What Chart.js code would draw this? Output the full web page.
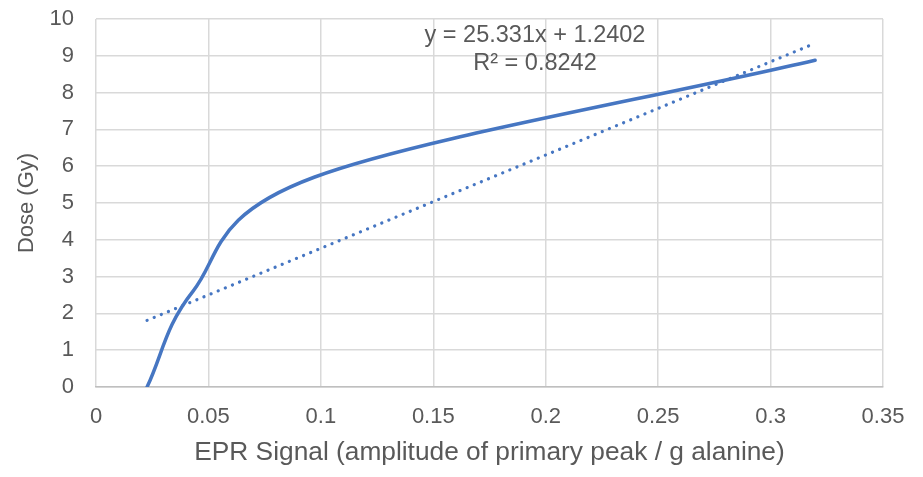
<!DOCTYPE html>
<html>
<head>
<meta charset="utf-8">
<script src="https://cdn.jsdelivr.net/npm/chart.js@4"></script>
<style>
html,body{margin:0;padding:0;background:#fff;}
#wrap{width:923px;height:477px;position:relative;}
</style>
</head>
<body>
<div id="wrap"><canvas id="c" width="923" height="477"></canvas></div>
<script>
// Data
const eprSignal = [0.0227, 0.0431, 0.097, 0.3198];
const doseGy    = [0, 2.6, 5.7, 8.88];
// Linear trendline end points (as drawn)
const trendX = [0.0227, 0.3198];
const trendY = [1.81, 9.34];
const xTickLabels = ['0', '0.05', '0.1', '0.15', '0.2', '0.25', '0.3', '0.35'];
const yTickLabels = ['0','1','2','3','4','5','6','7','8','9','10'];
const equationLines = ['y = 25.331x + 1.2402', 'R\u00B2 = 0.8242'];

const FONT = 'Liberation Sans, Arial, sans-serif';
const TXT = '#595959';
const BLUE = '#4676c2';

// Excel-style smoothing: Catmull-Rom (1/6) control points on the library's own pixel positions
const excelSmooth = {
  id: 'excelSmooth',
  beforeDatasetDraw(chart, args) {
    if (args.index !== 0) return;
    const meta = chart.getDatasetMeta(0);
    const line = meta.dataset;
    if (line && typeof line.updateControlPoints === 'function') line.updateControlPoints(chart.chartArea, 'x');
    const pts = meta.data;
    const n = pts.length;
    for (let i = 0; i < n; i++) {
      const p = pts[i];
      // phantom end points are reflections of the neighbours
      const prev = pts[i - 1] || {x: 2 * p.x - pts[i + 1].x, y: 2 * p.y - pts[i + 1].y};
      const next = pts[i + 1] || {x: 2 * p.x - pts[i - 1].x, y: 2 * p.y - pts[i - 1].y};
      const dx = (next.x - prev.x) / 6;
      const dy = (next.y - prev.y) / 6;
      p.cp1x = p.x - dx; p.cp1y = p.y - dy;
      p.cp2x = p.x + dx; p.cp2y = p.y + dy;
    }
    if (line) { line._pointsUpdated = true; delete line._path; }
  }
};

const eqPlugin = {
  id: 'eq',
  afterDatasetsDraw(chart) {
    const ctx = chart.ctx;
    ctx.save();
    ctx.font = '23.5px ' + FONT;
    ctx.fillStyle = TXT;
    ctx.textAlign = 'center';
    ctx.textBaseline = 'alphabetic';
    ctx.fillText(equationLines[0], 535, 42);
    ctx.fillText(equationLines[1], 535, 69.5);
    ctx.restore();
  }
};

new Chart(document.getElementById('c'), {
  type: 'scatter',
  data: {
    datasets: [
      {
        data: eprSignal.map((x, i) => ({x, y: doseGy[i]})),
        showLine: true,
        borderColor: BLUE,
        borderWidth: 3.5,
        pointRadius: 0,
        tension: 0.4,
        borderCapStyle: 'round',
        borderJoinStyle: 'round',
        fill: false
      },
      {
        data: trendX.map((x, i) => ({x, y: trendY[i]})),
        showLine: true,
        borderColor: BLUE,
        borderWidth: 3.2,
        borderDash: [0.1, 7.6],
        borderCapStyle: 'round',
        pointRadius: 0,
        tension: 0,
        fill: false
      }
    ]
  },
  plugins: [excelSmooth, eqPlugin],
  options: {
    responsive: false,
    animation: false,
    layout: { padding: { top: 19, right: 40, left: 0, bottom: 0 } },
    plugins: { legend: { display: false }, tooltip: { enabled: false } },
    scales: {
      x: {
        type: 'linear', min: 0, max: 0.35,
        afterBuildTicks(scale) { scale.ticks = xTickLabels.map(v => ({value: parseFloat(v)})); },
        afterFit(scale) { scale.height = 90; scale.paddingLeft = 0; scale.paddingRight = 0; },
        ticks: {
          color: TXT, font: { family: FONT, size: 22 }, padding: 17,
          callback: (v, i) => xTickLabels[i], maxRotation: 0, autoSkip: false
        },
        grid: { color: '#d9d9d9', lineWidth: 1.5, drawTicks: false },
        border: { color: '#bfbfbf', width: 1.5 },
        title: { display: true, text: 'EPR Signal (amplitude of primary peak / g alanine)',
                 color: TXT, font: { family: FONT, size: 26.3 }, padding: { top: 0, bottom: 8 } }
      },
      y: {
        type: 'linear', min: 0, max: 10,
        afterBuildTicks(scale) { scale.ticks = yTickLabels.map(v => ({value: parseFloat(v)})); },
        afterFit(scale) { scale.width = 96; scale.paddingTop = 0; scale.paddingBottom = 0; },
        ticks: {
          color: TXT, font: { family: FONT, size: 22 }, padding: 22,
          callback: (v, i) => yTickLabels[i]
        },
        grid: { color: '#d9d9d9', lineWidth: 1.5, drawTicks: false },
        border: { display: false },
        title: { display: true, text: 'Dose (Gy)', color: TXT, font: { family: FONT, size: 22 }, padding: { top: 14, bottom: 0 } }
      }
    }
  }
});
</script>
</body>
</html>
